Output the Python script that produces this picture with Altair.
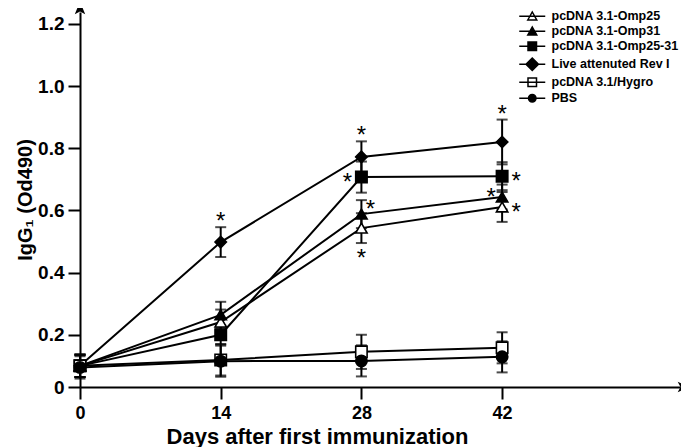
import altair as alt
import pandas as pd

# ---------------- data ----------------
days = [0, 14, 28, 42]
series = [
    "pcDNA 3.1-Omp25",
    "pcDNA 3.1-Omp31",
    "pcDNA 3.1-Omp25-31",
    "Live attenuted Rev I",
    "pcDNA 3.1/Hygro",
    "PBS",
]
omp25 = [0.100, 0.241, 0.543, 0.611]
omp25_err = [0.036, 0.040, 0.048, 0.048]
omp31 = [0.100, 0.264, 0.588, 0.643]
omp31_err = [0.036, 0.042, 0.045, 0.040]
omp2531 = [0.100, 0.200, 0.707, 0.710]
omp2531_err = [0.036, 0.030, 0.050, 0.045]
rev1 = [0.100, 0.498, 0.772, 0.820]
rev1_err = [0.036, 0.048, 0.050, 0.072]
hygro = [0.100, 0.119, 0.145, 0.158]
hygro_err = [0.036, 0.050, 0.055, 0.050]
pbs = [0.095, 0.115, 0.116, 0.129]
pbs_err = [0.036, 0.050, 0.050, 0.050]

means = [omp25, omp31, omp2531, rev1, hygro, pbs]
errs = [omp25_err, omp31_err, omp2531_err, rev1_err, hygro_err, pbs_err]

# significance asterisks: (series, day, placement)
ast_series = ["Live attenuted Rev I", "Live attenuted Rev I", "Live attenuted Rev I",
              "pcDNA 3.1-Omp25-31", "pcDNA 3.1-Omp31", "pcDNA 3.1-Omp25",
              "pcDNA 3.1-Omp25-31", "pcDNA 3.1-Omp31", "pcDNA 3.1-Omp25"]
ast_day = [14, 28, 42, 28, 28, 28, 42, 42, 42]
ast_place = ["above", "above", "above", "left", "upright", "below", "right", "upleft", "right"]

y_ticks = [0.032, 0.2, 0.4, 0.6, 0.8, 1.0, 1.2]
x_ticks = [0, 14, 28, 42]

# ---------------- styling ----------------
FONT = "Liberation Sans"
X_MIN, X_MAX = 0, 59.7
Y_MIN, Y_MAX = 0.032, 1.238

shapes = ["triangle-up", "triangle-up", "square", "diamond", "square", "circle"]
fills = ["white", "black", "black", "black", "white", "black"]
sizes = [130, 130, 121, 230, 100, 80]

LINE = "M-2.6,0H2.6"
leg_tri = LINE + "M-0.9,0.75L0,-0.85L0.9,0.75Z"
leg_sq = LINE + "M-0.85,-0.85H0.85V0.85H-0.85Z"
leg_dia = LINE + "M0,-1.25L1.25,0L0,1.25L-1.25,0Z"
leg_circ = LINE + "M-0.75,0A0.75,0.75 0 1,0 0.75,0A0.75,0.75 0 1,0 -0.75,0Z"
leg_shapes = [leg_tri, leg_tri, leg_sq, leg_dia, leg_sq, leg_circ]

rows = []
for s, m, e in zip(series, means, errs):
    for d, mv, ev in zip(days, m, e):
        rows.append({"series": s, "day": d, "mean": mv, "lo": mv - ev, "hi": mv + ev})
df = pd.DataFrame(rows)

place_style = {
    "above": ("hi", 0, -11),
    "below": ("lo", 0, 10),
    "left": ("mean", -14, 0),
    "right": ("mean", 14, 0),
    "upleft": ("mean", -11, -5),
    "upright": ("hi", 9, 4),
}
arows = []
for s, d, p in zip(ast_series, ast_day, ast_place):
    r = df[(df.series == s) & (df.day == d)].iloc[0]
    arows.append({"day": d, "val": r[place_style[p][0]], "place": p})
adf = pd.DataFrame(arows)

xscale = alt.Scale(domain=[X_MIN, X_MAX], nice=False, zero=False)
yscale = alt.Scale(domain=[Y_MIN, Y_MAX], nice=False, zero=False)

xaxis = alt.Axis(
    values=x_ticks, title="Days after first immunization", grid=False,
    domainColor="black", domainWidth=2, tickColor="black", tickWidth=2, tickSize=12,
    labelFont=FONT, labelFontSize=18, labelFontWeight="bold", labelColor="black",
    labelPadding=5, labelFlush=False,
    titleFont=FONT, titleFontSize=22, titleFontWeight="bold", titleColor="black",
    titleX=237, titleAlign="center", titlePadding=4,
)
yaxis = alt.Axis(
    values=y_ticks, title="IgG\u2081 (Od490)", grid=False,
    labelExpr="datum.value < 0.1 ? '0' : format(datum.value, '.1f')",
    domainColor="black", domainWidth=2, tickColor="black", tickWidth=2, tickSize=12,
    labelFont=FONT, labelFontSize=19, labelFontWeight="bold", labelColor="black",
    labelPadding=4, labelFlush=False,
    titleFont=FONT, titleFontSize=20, titleFontWeight="bold", titleColor="black",
    titlePadding=2,
)

base = alt.Chart(df)

lines = base.mark_line(color="black", strokeWidth=2).encode(
    x=alt.X("day:Q", scale=xscale, axis=xaxis),
    y=alt.Y("mean:Q", scale=yscale, axis=yaxis),
    detail="series:N",
)

rules = base.mark_rule(color="black", strokeWidth=2).encode(
    x="day:Q", y="lo:Q", y2="hi:Q"
)
cap_lo = base.mark_tick(color="black", orient="horizontal", size=11, thickness=2).encode(
    x="day:Q", y="lo:Q"
)
cap_hi = base.mark_tick(color="black", orient="horizontal", size=11, thickness=2).encode(
    x="day:Q", y="hi:Q"
)

points = base.mark_point(stroke="black", strokeWidth=1.6, opacity=1).encode(
    x="day:Q",
    y="mean:Q",
    shape=alt.Shape("series:N", scale=alt.Scale(domain=series, range=shapes), legend=None),
    fill=alt.Fill("series:N", scale=alt.Scale(domain=series, range=fills), legend=None),
    size=alt.Size("series:N", scale=alt.Scale(domain=series, range=sizes), legend=None),
)

leg_kw = dict(title=None, orient="none", legendX=437, legendY=-2)
leg_df = pd.DataFrame({"legend": series})
legend_layer = alt.Chart(leg_df).mark_point(
    opacity=0, strokeWidth=1.5
).encode(
    x=alt.value(0), y=alt.value(0),
    shape=alt.Shape("legend:N", scale=alt.Scale(domain=series, range=leg_shapes),
                    legend=alt.Legend(**leg_kw,
                                      symbolOpacity=1, symbolSize=100,
                                      symbolStrokeWidth=1.5,
                                      symbolOffset=9, labelOffset=13,
                                      labelFont=FONT, labelFontSize=12.5, labelFontWeight="bold",
                                      labelColor="black", rowPadding=1, labelLimit=300)),
    fill=alt.Fill("legend:N", scale=alt.Scale(domain=series, range=fills),
                  legend=alt.Legend(**leg_kw)),
    stroke=alt.Stroke("legend:N", scale=alt.Scale(domain=series, range=["black"] * 6),
                      legend=alt.Legend(**leg_kw)),
)

ast_layers = []
for p, (_, dx, dy) in place_style.items():
    ast_layers.append(
        alt.Chart(adf).transform_filter(alt.datum.place == p).mark_text(
            text="*", font=FONT, fontSize=24, color="black", baseline="alphabetic",
            align="center", dx=dx, dy=dy + 13,
        ).encode(x="day:Q", y="val:Q")
    )

one = pd.DataFrame({"k": [0]})
arrow_path = "M0,-1L-0.55,0.35L0,0.05L0.55,0.35Z"
arrow_y = alt.Chart(one).mark_point(shape=arrow_path, filled=True, color="black",
                                    size=360, opacity=1, yOffset=-1).encode(
    x=alt.datum(X_MIN), y=alt.datum(Y_MAX))
arrow_x = alt.Chart(one).mark_point(shape=arrow_path, filled=True, color="black",
                                    size=360, opacity=1, angle=90, xOffset=1).encode(
    x=alt.datum(X_MAX), y=alt.datum(Y_MIN))

chart = alt.layer(
    lines, rules, cap_lo, cap_hi, points, legend_layer, *ast_layers, arrow_y, arrow_x
).resolve_scale(
    shape="independent", fill="independent", size="independent", stroke="independent"
).properties(
    width=600, height=375,
    autosize=alt.AutoSizeParams(type="none"),
    padding={"left": 72, "top": 4, "right": 1, "bottom": 60},
    background="white",
).configure_view(stroke=None)

chart.save("out.html", embed_options={"renderer": "svg", "actions": False})
